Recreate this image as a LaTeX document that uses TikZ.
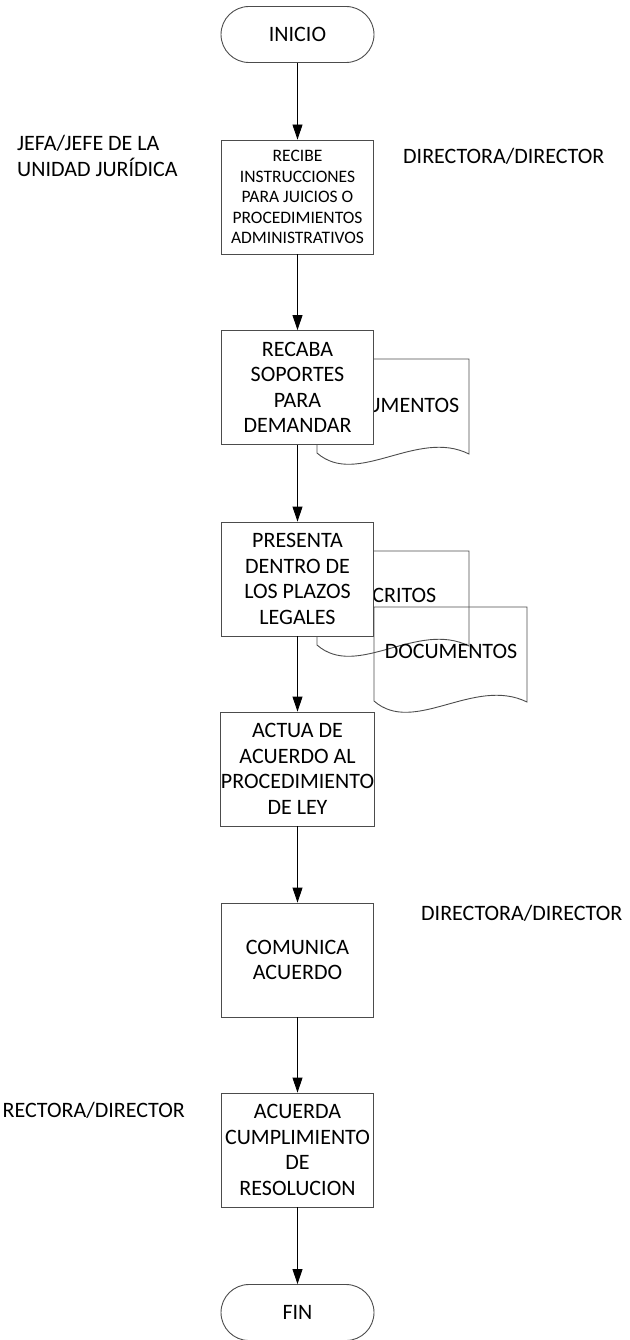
\documentclass[tikz,border=0pt]{standalone}
\usepackage{fontspec}
\setmainfont{Carlito}
\usetikzlibrary{arrows.meta}
\tikzset{
  proc/.style={draw=black!70, line width=0.9pt, fill=white, minimum width=152pt, minimum height=114pt, inner sep=0pt, align=center, font=\fontsize{22}{25.5}\selectfont},
  procsmall/.style={proc, font=\fontsize{17.5}{20.5}\selectfont},
  term/.style={draw=black!70, line width=0.9pt, fill=white, rounded corners=28pt, minimum width=153pt, minimum height=56pt, inner sep=0pt, font=\fontsize{22}{26}\selectfont},
  flow/.style={-{Triangle[length=15pt,width=10pt]}, line width=0.9pt},
  lbl/.style={font=\fontsize{22}{26}\selectfont, inner sep=0pt},
  docshape/.style={draw=black!70, line width=0.9pt}
}
\begin{document}
\begin{tikzpicture}[x=1pt,y=-1pt]
\useasboundingbox (0,0) rectangle (629,1340);
% documents
\draw[docshape] (317,453) -- (317,359) -- (469,359) -- (469,454)
  .. controls (417,428) and (357,488) .. (317,453);
\node[lbl, anchor=base] (doc1) at (393,412) {DOCUMENTOS};
\draw[docshape] (317,645) -- (317,551) -- (469,551) -- (469,646)
  .. controls (417,620) and (357,680) .. (317,645);
\node[lbl, anchor=base] (esc) at (394,602) {ESCRITOS};
\draw[docshape] (374,701) -- (374,607) -- (527,607) -- (527,702)
  .. controls (474,676) and (414,736) .. (374,701);
\node[lbl, anchor=base] (doc2) at (451,658) {DOCUMENTOS};
% labels
\node[lbl, anchor=base west, align=left] (jefa) at (17,177) {JEFA/JEFE DE LA\\[0pt]UNIDAD JURÍDICA};
\node[lbl, anchor=base west] (dir1) at (403,164) {DIRECTORA/DIRECTOR};
\node[lbl, anchor=base west] (dir2) at (421,920) {DIRECTORA/DIRECTOR};
\node[lbl, anchor=base east] (dir3) at (185,1117) {RECTORA/DIRECTOR};
% flow
\node[term] (inicio) at (297.5,34.5) {INICIO};
\node[procsmall] (recibe) at (297.5,197) {RECIBE\\INSTRUCCIONES\\PARA JUICIOS O\\PROCEDIMIENTOS\\ADMINISTRATIVOS};
\node[proc] (recaba) at (297.5,387.5) {RECABA\\SOPORTES\\PARA\\DEMANDAR};
\node[proc] (presenta) at (297.5,579) {PRESENTA\\DENTRO DE\\LOS PLAZOS\\LEGALES};
\node[proc] (actua) at (297.5,769) {ACTUA DE\\ACUERDO AL\\PROCEDIMIENTO\\DE LEY};
\node[proc] (comunica) at (297.5,960) {COMUNICA\\ACUERDO};
\node[proc] (acuerda) at (297.5,1150) {ACUERDA\\CUMPLIMIENTO\\DE\\RESOLUCION};
\node[term] (fin) at (297.5,1312.5) {FIN};
\draw[flow] (inicio) -- (recibe);
\draw[flow] (recibe) -- (recaba);
\draw[flow] (recaba) -- (presenta);
\draw[flow] (presenta) -- (actua);
\draw[flow] (actua) -- (comunica);
\draw[flow] (comunica) -- (acuerda);
\draw[flow] (acuerda) -- (fin);
\end{tikzpicture}
\end{document}
